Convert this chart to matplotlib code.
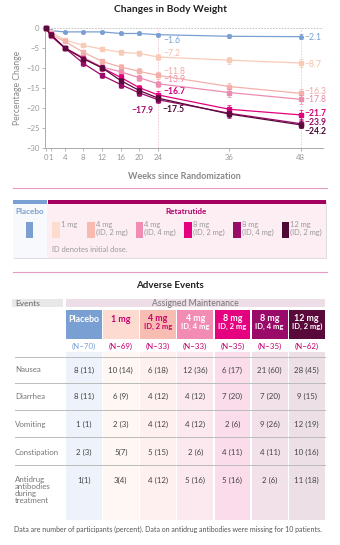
import numpy as np
import matplotlib
matplotlib.use("Agg")
import matplotlib.pyplot as plt
from matplotlib.patches import Rectangle

plt.rcParams['font.family'] = ['Lato', 'DejaVu Sans']

# ---------------- data ----------------
weeks = [0, 1, 4, 8, 12, 16, 20, 24, 36, 48]
xticks = [0, 1, 4, 8, 12, 16, 20, 24, 36, 48]
yticks = [0, -5, -10, -15, -20, -25, -30]

groups = ["Placebo", "1 mg", "4 mg (ID, 2 mg)", "4 mg (ID, 4 mg)",
          "8 mg (ID, 2 mg)", "8 mg (ID, 4 mg)", "12 mg (ID, 2 mg)"]
placebo = [0, -0.6, -0.9, -0.9, -0.9, -1.3, -1.3, -1.6, -2.0, -2.1]
mg1 = [0, -1.0, -2.9, -4.3, -5.2, -6.0, -6.3, -7.2, -8.0, -8.7]
mg4_id2 = [0, -1.5, -3.3, -6.0, -8.3, -9.7, -10.8, -11.8, -14.6, -16.3]
mg4_id4 = [0, -1.9, -4.9, -7.3, -9.7, -10.9, -12.4, -13.9, -16.1, -17.8]
mg8_id2 = [0, -1.8, -4.9, -7.6, -9.9, -12.3, -14.9, -16.7, -20.3, -21.7]
mg8_id4 = [0, -1.5, -4.9, -8.8, -11.8, -14.1, -16.2, -17.9, -21.3, -23.9]
mg12 = [0, -1.6, -4.9, -7.6, -9.9, -13.1, -15.6, -17.5, -21.5, -24.2]
series = [placebo, mg1, mg4_id2, mg4_id4, mg8_id2, mg8_id4, mg12]

err_placebo = [0, 0.2, 0.3, 0.3, 0.3, 0.3, 0.3, 0.4, 0.5, 0.6]
err_mg1 = [0, 0.3, 0.4, 0.5, 0.5, 0.6, 0.6, 0.7, 0.9, 1.0]
err_mg4_id2 = [0, 0.3, 0.5, 0.6, 0.7, 0.7, 0.8, 0.8, 1.0, 1.1]
err_mg4_id4 = [0, 0.3, 0.5, 0.6, 0.7, 0.7, 0.8, 0.8, 1.0, 1.1]
err_mg8_id2 = [0, 0.3, 0.5, 0.6, 0.7, 0.8, 0.8, 0.9, 1.1, 1.2]
err_mg8_id4 = [0, 0.3, 0.5, 0.6, 0.7, 0.8, 0.8, 0.9, 1.1, 1.2]
err_mg12 = [0, 0.3, 0.4, 0.5, 0.6, 0.6, 0.7, 0.7, 0.8, 0.9]
errors = [err_placebo, err_mg1, err_mg4_id2, err_mg4_id4, err_mg8_id2, err_mg8_id4, err_mg12]

# adverse events table
events = ["Nausea", "Diarrhea", "Vomiting", "Constipation",
          "Antidrug\nantibodies\nduring\ntreatment"]
col_line1 = ["Placebo", "1 mg", "4 mg", "4 mg", "8 mg", "8 mg", "12 mg"]
col_line2 = ["", "", "ID, 2 mg", "ID, 4 mg", "ID, 2 mg", "ID, 4 mg", "ID, 2 mg)"]
n_labels = ["(N\u221270)", "(N\u221269)", "(N\u221233)", "(N\u221233)",
            "(N\u221235)", "(N\u221235)", "(N\u221262)"]
nausea = ["8 (11)", "10 (14)", "6 (18)", "12 (36)", "6 (17)", "21 (60)", "28 (45)"]
diarrhea = ["8 (11)", "6 (9)", "4 (12)", "4 (12)", "7 (20)", "7 (20)", "9 (15)"]
vomiting = ["1 (1)", "2 (3)", "4 (12)", "4 (12)", "2 (6)", "9 (26)", "12 (19)"]
constipation = ["2 (3)", "5(7)", "5 (15)", "2 (6)", "4 (11)", "4 (11)", "10 (16)"]
antidrug = ["1(1)", "3(4)", "4 (12)", "5 (16)", "5 (16)", "2 (6)", "11 (18)"]
table_rows = [nausea, diarrhea, vomiting, constipation, antidrug]

# ---------------- styles ----------------
swatch_colors = ["#7a9fd2", "#fddccf", "#f8bab1", "#f08db3", "#e5007f", "#9a0a68", "#4e0a34"]
line_colors = ["#7a9fd2", "#f9cbb7", "#f4b0aa", "#ec8cb0", "#e2007c", "#9c0a69", "#5a0a3c"]
label_colors = ["#7a9fd2", "#f6bea8", "#f3a9a3", "#e98aab", "#d4007a", "#9a0a68", "#4a0a30"]
header_colors = ["#7a9fd2", "#fddbd0", "#f8bdb2", "#f28cb4", "#e5007f", "#9a0a68", "#5a0a3a"]
header_text = ["white", "#c8006e", "#c8006e", "white", "white", "white", "white"]
body_colors = ["#eef2fa", "#fff7f3", "#fdf0ee", "#fce9ef", "#fbdcea", "#f3e1ea", "#ece0e6"]

W, H = 340, 545
fig = plt.figure(figsize=(W / 100, H / 100), dpi=100)

ov = fig.add_axes([0, 0, 1, 1], zorder=0)
ov.set_xlim(0, W)
ov.set_ylim(H, 0)
ov.axis("off")

# ---------------- chart ----------------
k = 1.272


def fwd(x):
    x = np.asarray(x, dtype=float)
    return np.where(x <= 24, x, 24 + (x - 24) * k)


def inv(v):
    v = np.asarray(v, dtype=float)
    return np.where(v <= 24, v, 24 + (v - 24) / k)


ax = fig.add_axes([45.3 / W, 1 - 148 / H, (323 - 45.3) / W, (148 - 28.3) / H], zorder=2)
ax.patch.set_alpha(0)
ax.set_xscale("function", functions=(fwd, inv))
ax.set_xlim(-0.15, 51.75)
ax.set_ylim(-30, 0)

for s in ["top", "right"]:
    ax.spines[s].set_visible(False)
for s in ["left", "bottom"]:
    ax.spines[s].set_color("#aaaaaa")
    ax.spines[s].set_linewidth(0.7)

ax.axhline(0, color="#bbbbbb", lw=0.6, ls=(0, (2, 1.5)), zorder=1)
for w in (24, 48):
    ax.axvline(w, color="#f2c4d6", lw=0.6, ls=(0, (2, 1.5)), zorder=1)

ax.set_xticks(xticks)
ax.set_xticklabels([str(t) for t in xticks])
ax.set_yticks(yticks)
ax.set_yticklabels([str(t).replace("-", "\u2212") for t in yticks])
ax.tick_params(axis="both", labelsize=5.6, colors="#999999", length=2, width=0.5, pad=2)
ax.xaxis.set_minor_locator(matplotlib.ticker.NullLocator())

for i, (vals, errs) in enumerate(zip(series, errors)):
    ax.errorbar(weeks, vals, yerr=errs, color=line_colors[i], lw=0.9,
                marker="o" if i == 0 else "s", ms=2.6, elinewidth=0.5,
                capsize=1.2, capthick=0.5, clip_on=False, zorder=3 + i)

ax.set_ylabel("Percentage Change", fontsize=6.2, color="#888888", labelpad=3)
ax.set_xlabel("Weeks since Randomization", fontsize=6.5, color="#888888",
              fontweight="bold", labelpad=8)

p2pt = 0.72
annos = [
    (0, 24, 5, -6, "left", False), (0, 48, 4, -1, "left", False),
    (1, 24, 5, 4, "left", False), (1, 48, 4, -1, "left", False),
    (2, 24, 5, 3.5, "left", False), (2, 48, 4, 2, "left", False),
    (3, 24, 5, 4, "left", False), (3, 48, 4, -0.5, "left", False),
    (4, 24, 5, 3.5, "left", True), (4, 48, 4, 1, "left", True),
    (6, 48, 4, -6.5, "left", True),
    (5, 48, 4, 1, "left", True),
]
for si, wk, dx, dy, ha, bold in annos:
    v = series[si][weeks.index(wk)]
    ax.annotate(f"{v:.1f}".replace("-", "\u2212"), xy=(wk, v),
                xytext=(dx * p2pt, dy * p2pt), textcoords="offset points",
                ha=ha, va="center", fontsize=6.2, color=label_colors[si],
                fontweight="bold" if bold else "normal", annotation_clip=False)

v = series[5][weeks.index(24)]
ax.annotate(f"{v:.1f}".replace("-", "\u2212"), xy=(24, v), xytext=(-16 * p2pt, -11 * p2pt),
            textcoords="offset points", ha="center", va="center", fontsize=6.2,
            color=label_colors[5], fontweight="bold",
            arrowprops=dict(arrowstyle="-", color="#999999", lw=0.4, shrinkA=3, shrinkB=1))
v = series[6][weeks.index(24)]
ax.annotate(f"{v:.1f}".replace("-", "\u2212"), xy=(24, v), xytext=(4 * p2pt, -11 * p2pt),
            textcoords="offset points", ha="left", va="center", fontsize=6.2,
            color=label_colors[6], fontweight="bold",
            arrowprops=dict(arrowstyle="-", color="#999999", lw=0.4, shrinkA=1, shrinkB=1))

ov.text(170, 9, "Changes in Body Weight", ha="center", va="center",
        fontsize=7.4, fontweight="bold", color="#222222")

for yy in (188.3, 271.7):
    ov.plot([13, 327], [yy, yy], color="#e59cc4", lw=0.8)

# ---------------- legend box ----------------
bx0, bx1, by0, by1, split = 12.7, 325.7, 199.7, 257.7, 46.7
ov.add_patch(Rectangle((bx0 + 0.8, by0 + 0.8), bx1 - bx0, by1 - by0, fc="#dddddd", ec="none"))
ov.add_patch(Rectangle((bx0, by0), split - bx0, by1 - by0, fc="#f7f9fc", ec="none"))
ov.add_patch(Rectangle((split, by0), bx1 - split, by1 - by0, fc="#fdeef4", ec="none"))
ov.add_patch(Rectangle((bx0, by0), split - bx0, 3.8, fc="#7a9fd2", ec="none"))
ov.add_patch(Rectangle((split + 0.8, by0), bx1 - split - 0.8, 3.8, fc="#a6005f", ec="none"))
ov.text((bx0 + split) / 2, 211, "Placebo", ha="center", va="center", fontsize=5.9,
        fontweight="bold", color="#7a9fd2")
ov.text((split + bx1) / 2, 211, "Retatrutide", ha="center", va="center", fontsize=5.9,
        fontweight="bold", color="#b0006a")
ov.add_patch(Rectangle((26, 222.3), 7.3, 15.4, fc=swatch_colors[0], ec="none"))
sw_x = [52.3, 87.3, 136.0, 184.3, 233.3, 281.7]
for j, x0 in enumerate(sw_x):
    ov.add_patch(Rectangle((x0, 222.3), 7.3, 15.4, fc=swatch_colors[j + 1], ec="none"))
    name = groups[j + 1]
    if "(" in name:
        a, b = name.split(" (", 1)
        txt = a + "\n(" + b
    else:
        txt = name
    ov.text(x0 + 8.3, 221.0, txt, ha="left", va="top", fontsize=5.4,
            color="#999999", linespacing=1.1)
ov.text(52.3, 250, "ID denotes initial dose.", ha="left", va="center",
        fontsize=5.4, color="#999999")

# ---------------- adverse events table ----------------
ov.text(170, 285, "Adverse Events", ha="center", va="center", fontsize=7.0,
        fontweight="bold", color="#222222")
ov.add_patch(Rectangle((12.3, 298.5), 51, 8.8, fc="#e8e8e8", ec="none"))
ov.text(15, 303, "Events", ha="left", va="center", fontsize=6.0, color="#666666")
ov.add_patch(Rectangle((65.7, 298.5), 259.3, 8.8, fc="#ecdde6", ec="none"))
ov.text(195.3, 303, "Assigned Maintenance", ha="center", va="center", fontsize=6.2,
        color="#777777")

cx0, cstep, cw = 65.7, 37.2, 35.8
row_lines = [356.7, 383.3, 410.0, 437.0, 465.3]
row_text_y = [370.0, 396.7, 424.0, 452.3, 480.5]
for i in range(len(groups)):
    x0 = cx0 + i * cstep
    xc = x0 + cw / 2
    ov.add_patch(Rectangle((x0, 352), cw, 520 - 352, fc=body_colors[i], ec="none", zorder=0))
    ov.add_patch(Rectangle((x0, 310), cw, 29.3, fc=header_colors[i], ec="none"))
    if col_line2[i]:
        ov.text(xc, 318.5, col_line1[i], ha="center", va="center", fontsize=6.4,
                fontweight="bold", color=header_text[i])
        ov.text(xc, 326.0, col_line2[i], ha="center", va="center", fontsize=5.5,
                fontweight="bold", color=header_text[i])
    else:
        ov.text(xc, 319.5, col_line1[i], ha="center", va="center", fontsize=6.4,
                fontweight="bold", color=header_text[i])
    ov.text(xc, 346, n_labels[i], ha="center", va="center", fontsize=5.7,
            color="#7a9fd2" if i == 0 else "#c0006e")
    for r, row in enumerate(table_rows):
        ov.text(xc, row_text_y[r], row[i], ha="center", va="center", fontsize=5.7,
                color="#444444")

for yy in row_lines:
    ov.plot([14.5, 325], [yy, yy], color="#bbbbbb", lw=0.7, zorder=2)
for r, ev in enumerate(events):
    ov.text(15, row_text_y[r] if r < 4 else 476.0, ev, ha="left",
            va="center" if r < 4 else "top", fontsize=5.7, color="#777777",
            linespacing=1.0)

ov.text(168, 529.3, "Data are number of participants (percent). Data on antidrug antibodies "
        "were missing for 10 patients.", ha="center", va="center", fontsize=5.0,
        color="#555555")

fig.savefig("out.png", dpi=100)
